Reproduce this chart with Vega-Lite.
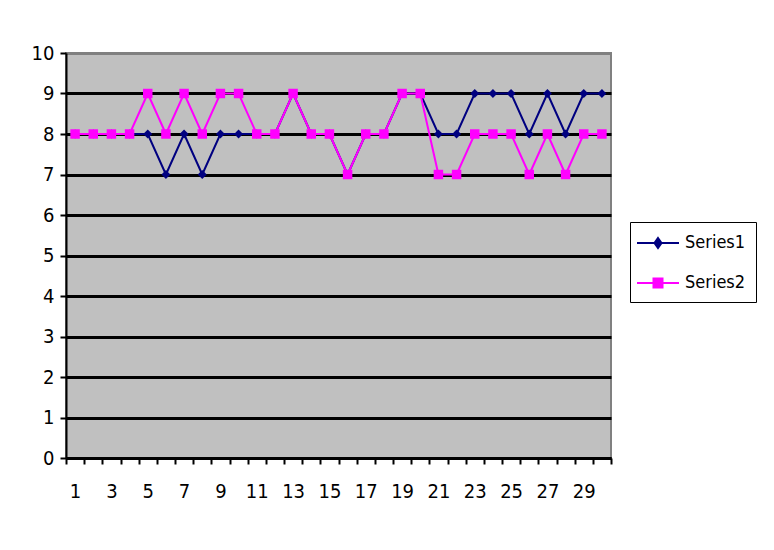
{
  "$schema": "https://vega.github.io/schema/vega-lite/v6.json",
  "width": 545,
  "height": 405,
  "autosize": {"type": "none"},
  "padding": {"left": 66, "top": 53, "right": 163, "bottom": 92},
  "background": "white",
  "config": {
    "view": {"fill": "#C0C0C0", "stroke": "#808080", "strokeWidth": 2},
    "font": "DejaVu Sans Condensed"
  },
  "data": {
    "values": [
      {"x": 1, "series": "Series1", "v": 8}, {"x": 2, "series": "Series1", "v": 8}, {"x": 3, "series": "Series1", "v": 8},
      {"x": 4, "series": "Series1", "v": 8}, {"x": 5, "series": "Series1", "v": 8}, {"x": 6, "series": "Series1", "v": 7},
      {"x": 7, "series": "Series1", "v": 8}, {"x": 8, "series": "Series1", "v": 7}, {"x": 9, "series": "Series1", "v": 8},
      {"x": 10, "series": "Series1", "v": 8}, {"x": 11, "series": "Series1", "v": 8}, {"x": 12, "series": "Series1", "v": 8},
      {"x": 13, "series": "Series1", "v": 9}, {"x": 14, "series": "Series1", "v": 8}, {"x": 15, "series": "Series1", "v": 8},
      {"x": 16, "series": "Series1", "v": 7}, {"x": 17, "series": "Series1", "v": 8}, {"x": 18, "series": "Series1", "v": 8},
      {"x": 19, "series": "Series1", "v": 9}, {"x": 20, "series": "Series1", "v": 9}, {"x": 21, "series": "Series1", "v": 8},
      {"x": 22, "series": "Series1", "v": 8}, {"x": 23, "series": "Series1", "v": 9}, {"x": 24, "series": "Series1", "v": 9},
      {"x": 25, "series": "Series1", "v": 9}, {"x": 26, "series": "Series1", "v": 8}, {"x": 27, "series": "Series1", "v": 9},
      {"x": 28, "series": "Series1", "v": 8}, {"x": 29, "series": "Series1", "v": 9}, {"x": 30, "series": "Series1", "v": 9},
      {"x": 1, "series": "Series2", "v": 8}, {"x": 2, "series": "Series2", "v": 8}, {"x": 3, "series": "Series2", "v": 8},
      {"x": 4, "series": "Series2", "v": 8}, {"x": 5, "series": "Series2", "v": 9}, {"x": 6, "series": "Series2", "v": 8},
      {"x": 7, "series": "Series2", "v": 9}, {"x": 8, "series": "Series2", "v": 8}, {"x": 9, "series": "Series2", "v": 9},
      {"x": 10, "series": "Series2", "v": 9}, {"x": 11, "series": "Series2", "v": 8}, {"x": 12, "series": "Series2", "v": 8},
      {"x": 13, "series": "Series2", "v": 9}, {"x": 14, "series": "Series2", "v": 8}, {"x": 15, "series": "Series2", "v": 8},
      {"x": 16, "series": "Series2", "v": 7}, {"x": 17, "series": "Series2", "v": 8}, {"x": 18, "series": "Series2", "v": 8},
      {"x": 19, "series": "Series2", "v": 9}, {"x": 20, "series": "Series2", "v": 9}, {"x": 21, "series": "Series2", "v": 7},
      {"x": 22, "series": "Series2", "v": 7}, {"x": 23, "series": "Series2", "v": 8}, {"x": 24, "series": "Series2", "v": 8},
      {"x": 25, "series": "Series2", "v": 8}, {"x": 26, "series": "Series2", "v": 7}, {"x": 27, "series": "Series2", "v": 8},
      {"x": 28, "series": "Series2", "v": 7}, {"x": 29, "series": "Series2", "v": 8}, {"x": 30, "series": "Series2", "v": 8}
    ]
  },
  "encoding": {
    "x": {
      "field": "x", "type": "ordinal",
      "scale": {"paddingInner": 0, "paddingOuter": 0},
      "axis": {
        "title": null, "labelAngle": 0, "tickBand": "extent",
        "labelExpr": "datum.value % 2 == 1 ? datum.label : ''",
        "labelFont": "DejaVu Sans Condensed", "labelFontSize": 20, "labelColor": "black",
        "labelPadding": 17, "tickSize": 6, "tickWidth": 2, "tickColor": "black",
        "domainColor": "black", "domainWidth": 3, "grid": false
      }
    },
    "y": {
      "field": "v", "type": "quantitative",
      "scale": {"domain": [0, 10], "nice": false, "zero": true},
      "axis": {
        "title": null, "values": [0, 1, 2, 3, 4, 5, 6, 7, 8, 9, 10],
        "labelFont": "DejaVu Sans Condensed", "labelFontSize": 20, "labelColor": "black",
        "labelPadding": 6, "tickSize": 6, "tickWidth": 2, "tickColor": "black",
        "domainColor": "black", "domainWidth": 2,
        "grid": true, "gridWidth": 3,
        "gridColor": {"condition": {"test": "datum.value == 10", "value": "#808080"}, "value": "black"}
      }
    },
    "color": {
      "field": "series", "type": "nominal",
      "scale": {"domain": ["Series1", "Series2"], "range": ["#000080", "#FF00FF"]},
      "legend": {
        "title": null, "orient": "none", "legendX": 564, "legendY": 169,
        "fillColor": "white", "strokeColor": "black",
        "padding": 10, "rowPadding": 20,
        "labelFont": "DejaVu Sans Condensed", "labelFontSize": 18, "labelColor": "black",
        "symbolSize": 400, "symbolStrokeWidth": 2,
        "symbolOffset": 7, "labelOffset": 16,
        "encode": {
          "symbols": {
            "update": {
              "shape": {"signal": "datum.value == 'Series1' ? 'M-2.1,0H2.1M0,-0.5L0.35,0L0,0.5L-0.35,0Z' : 'M-2.1,0H2.1M-0.45,-0.45H0.45V0.45H-0.45Z'"},
              "fill": {"signal": "datum.value == 'Series1' ? '#000080' : '#FF00FF'"},
              "stroke": {"signal": "datum.value == 'Series1' ? '#000080' : '#FF00FF'"}
            }
          }
        }
      }
    }
  },
  "layer": [
    {"mark": {"type": "line", "strokeWidth": 2}},
    {
      "transform": [{"filter": "datum.series == 'Series1'"}],
      "mark": {"type": "point", "filled": true, "opacity": 1, "shape": "diamond", "size": 80}
    },
    {
      "transform": [{"filter": "datum.series == 'Series2'"}],
      "mark": {"type": "point", "filled": true, "opacity": 1, "shape": "square", "size": 90}
    }
  ]
}
